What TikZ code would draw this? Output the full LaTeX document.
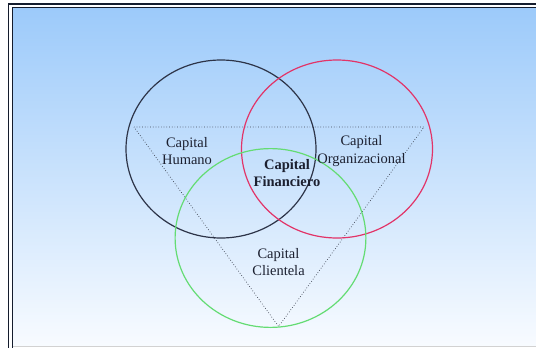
\documentclass[tikz,border=0pt]{standalone}
\usepackage{fontspec}
\setmainfont{Liberation Serif}
\definecolor{skytop}{RGB}{156,202,250}
\definecolor{skybottom}{RGB}{248,251,255}
\definecolor{framecol}{RGB}{20,28,45}
\definecolor{inkcol}{RGB}{28,32,48}
\definecolor{humcol}{RGB}{45,52,72}
\definecolor{orgcol}{RGB}{226,52,104}
\definecolor{clicol}{RGB}{100,220,115}
\definecolor{tricol}{RGB}{60,66,80}
\tikzset{
  ring/.style={line width=1.2pt},
  label/.style={text=inkcol, align=center, inner sep=0pt,
    font=\fontsize{14.5}{17.5}\selectfont},
  boldlabel/.style={label, font=\fontsize{14.5}{16.5}\selectfont\bfseries},
  triline/.style={draw=tricol, line width=0.7pt, dotted}
}
\begin{document}
\begin{tikzpicture}[x=1pt,y=-1pt]
\useasboundingbox (0,0) rectangle (536,348);
\fill[white] (0,0) rectangle (536,348);
% panel background with its double frame
\shade[top color=skytop, bottom color=skybottom] (12,7) rectangle (537,346);
\draw[gray!35, line width=0.8pt] (12,346.6) -- (537,346.6);
\draw[framecol, line width=1.5pt] (8.5,349) -- (8.5,4) -- (537,4);
\draw[framecol, line width=1.3pt] (12.3,349) -- (12.3,7.3) -- (537,7.3);
% dotted triangle
\coordinate (tl) at (134,127);
\coordinate (tr) at (424,127);
\coordinate (bt) at (278.6,326.5);
\draw[triline] (tl) -- (tr) -- (bt) -- cycle;
% the three capitals
\draw[ring, humcol] (221,149) ellipse [x radius=95, y radius=89];
\draw[ring, orgcol] (337,149) ellipse [x radius=95.5, y radius=89];
\draw[ring, clicol] (270.5,238) ellipse [x radius=95.4, y radius=89.4];
% labels
\node[label] (hum) at (187,151) {Capital\\Humano};
\node[label] (org) at (361.5,151) {Capital\\Organizacional};
\node[boldlabel] (fin) at (287,173) {Capital\\Financiero};
\node[label] (cli) at (278.5,262) {Capital\\Clientela};
\end{tikzpicture}
\end{document}
